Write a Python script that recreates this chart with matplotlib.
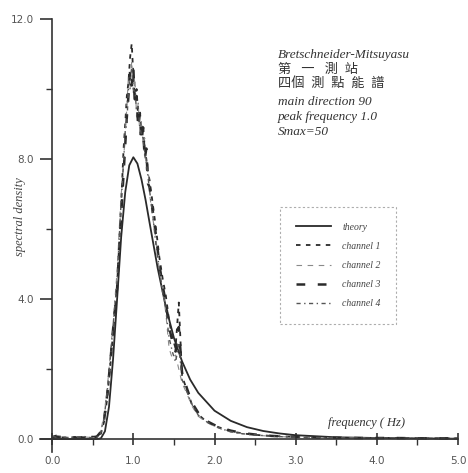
import matplotlib
matplotlib.use('Agg')
import matplotlib.pyplot as plt
from matplotlib.ticker import MultipleLocator, FormatStrFormatter

# theory curve (Bretschneider-Mitsuyasu)
theory_f = [0.00, 0.55, 0.60, 0.65, 0.70, 0.75, 0.80, 0.85, 0.90, 0.95, 1.00,
            1.05, 1.10, 1.15, 1.20, 1.30, 1.40, 1.50, 1.60, 1.70, 1.80, 2.00,
            2.20, 2.40, 2.60, 2.80, 3.00, 3.50, 4.00, 5.00]
theory_s = [0.00, 0.00, 0.02, 0.22, 0.92, 2.28, 4.00, 5.77, 7.05, 7.82, 8.05,
            7.87, 7.42, 6.84, 6.18, 4.88, 3.78, 2.89, 2.22, 1.70, 1.32, 0.81,
            0.52, 0.34, 0.23, 0.16, 0.11, 0.05, 0.03, 0.01]

# measured spectra, shared frequency grid
freq = [0.00, 0.05, 0.10, 0.20, 0.30, 0.40, 0.50, 0.55, 0.60, 0.64, 0.68, 0.72,
        0.76, 0.80, 0.84, 0.88, 0.90, 0.92, 0.94, 0.96, 0.98, 1.00, 1.02, 1.04,
        1.06, 1.08, 1.10, 1.12, 1.14, 1.16, 1.18, 1.20, 1.24, 1.28, 1.32, 1.36,
        1.40, 1.44, 1.48, 1.52, 1.56, 1.60, 1.66, 1.72, 1.80, 1.90, 2.00, 2.10,
        2.20, 2.35, 2.50, 2.70, 2.90, 3.10, 3.40, 3.80, 4.20, 4.60, 5.00]
channel_1 = [0.06, 0.10, 0.05, 0.04, 0.06, 0.05, 0.07, 0.06, 0.15, 0.5, 1.2, 2.2,
             3.3, 4.4, 6.2, 8.3, 9.0, 9.8, 10.2, 10.9, 11.3, 10.4, 9.7, 10.0,
             9.2, 9.4, 8.8, 9.0, 8.3, 8.0, 7.6, 7.4, 6.7, 6.0, 5.2, 4.6,
             4.1, 3.4, 2.9, 2.6, 3.9, 1.8, 1.4, 1.0, 0.7, 0.5, 0.38, 0.30,
             0.22, 0.16, 0.12, 0.09, 0.07, 0.05, 0.04, 0.03, 0.03, 0.02, 0.02]
channel_2 = [0.04, 0.06, 0.08, 0.05, 0.03, 0.06, 0.04, 0.08, 0.25, 0.7, 1.5, 2.5,
             3.6, 4.8, 6.6, 8.0, 8.7, 9.5, 10.4, 10.0, 10.8, 9.9, 10.3, 9.2,
             9.6, 8.7, 9.1, 8.4, 8.6, 7.7, 7.9, 7.0, 6.3, 5.7, 4.8, 4.3,
             3.6, 2.6, 2.3, 2.4, 2.0, 1.6, 1.3, 0.95, 0.65, 0.48, 0.36, 0.27,
             0.20, 0.15, 0.11, 0.08, 0.06, 0.05, 0.04, 0.03, 0.02, 0.02, 0.01]
channel_3 = [0.05, 0.07, 0.06, 0.06, 0.04, 0.05, 0.05, 0.07, 0.2, 0.55, 1.3, 2.3,
             3.4, 4.3, 6.0, 7.6, 8.4, 9.2, 9.8, 10.5, 10.1, 10.6, 9.5, 9.8,
             8.9, 9.3, 8.5, 8.9, 8.0, 8.3, 7.3, 7.2, 6.5, 5.8, 5.0, 4.4,
             3.9, 3.2, 2.8, 2.5, 3.2, 1.9, 1.45, 1.05, 0.75, 0.52, 0.40, 0.31,
             0.24, 0.17, 0.13, 0.09, 0.07, 0.06, 0.04, 0.03, 0.03, 0.02, 0.02]
channel_4 = [0.08, 0.05, 0.07, 0.03, 0.05, 0.07, 0.03, 0.05, 0.18, 0.6, 1.4, 2.4,
             3.5, 4.5, 6.4, 7.9, 8.8, 9.0, 10.0, 10.3, 10.6, 10.0, 9.9, 9.4,
             9.5, 8.9, 8.7, 8.6, 8.1, 7.9, 7.5, 7.1, 6.4, 5.5, 4.9, 4.2,
             3.7, 2.9, 2.5, 2.2, 2.7, 1.7, 1.35, 1.0, 0.68, 0.50, 0.37, 0.28,
             0.21, 0.15, 0.12, 0.08, 0.06, 0.05, 0.04, 0.03, 0.02, 0.02, 0.02]

x_ticks = [0.0, 1.0, 2.0, 3.0, 4.0, 5.0]
y_ticks = [0.0, 4.0, 8.0, 12.0]

info_lines = ['Bretschneider-Mitsuyasu', '第   一   測  站', '四個  測  點  能  譜',
              'main direction 90', 'peak frequency 1.0', 'Smax=50']

SERIF = ['Liberation Serif', 'Noto Sans CJK TC']
INK = '#2a2a2a'
W, H = 468, 473

fig = plt.figure(figsize=(W / 100, H / 100), dpi=100)
fig.patch.set_facecolor('white')
ax = fig.add_axes([40 / W, 21 / H, 418 / W, 433 / H])
ax.set_xlim(-0.15, 5.0)
ax.set_ylim(-0.37, 12.0)

ax.plot(theory_f, theory_s, color=INK, lw=1.3, label='theory')
ax.plot(freq, channel_1, color=INK, lw=1.3, ls=(0, (2.5, 3)), label='channel 1')
ax.plot(freq, channel_2, color='#8a8a8a', lw=0.8, ls=(0, (5, 5)), label='channel 2')
ax.plot(freq, channel_3, color=INK, lw=1.8, ls=(0, (3.5, 5)), label='channel 3')
ax.plot(freq, channel_4, color='#555555', lw=1.0, ls=(0, (3, 2.5, 1, 2.5)),
        label='channel 4')

# axes drawn through the origin, only left and bottom
for side in ('top', 'right'):
    ax.spines[side].set_visible(False)
ax.spines['left'].set_position(('data', 0))
ax.spines['bottom'].set_position(('data', 0))
for side in ('left', 'bottom'):
    ax.spines[side].set_color('#333333')
    ax.spines[side].set_linewidth(1.2)

ax.set_xticks(x_ticks)
ax.set_yticks(y_ticks)
ax.xaxis.set_minor_locator(MultipleLocator(0.5))
ax.yaxis.set_minor_locator(MultipleLocator(2.0))
ax.xaxis.set_major_formatter(FormatStrFormatter('%.1f'))
ax.yaxis.set_major_formatter(FormatStrFormatter('%.1f'))
ax.tick_params(axis='x', which='major', direction='inout', length=8, width=1.2,
               color='#333333', labelsize=7.5, labelcolor='#555555', pad=8)
ax.tick_params(axis='x', which='minor', direction='out', length=4, width=1.0,
               color='#333333')
ax.tick_params(axis='y', which='major', direction='out', length=9, width=1.2,
               color='#333333', labelsize=7.5, labelcolor='#555555', pad=4)
ax.tick_params(axis='y', which='minor', direction='out', length=4, width=1.0,
               color='#333333')

fig.text(20 / W, 1 - 217 / H, 'spectral density', rotation=90, ha='center',
         va='center', fontsize=9, style='italic', family=SERIF, color='#444444')
fig.text(328 / W, 1 - 423 / H, 'frequency ( Hz)', ha='left', va='center',
         fontsize=9, style='italic', family=SERIF, color='#333333')

for y_px, line in zip([55, 70, 84, 102, 117, 132], info_lines):
    fig.text(278 / W, 1 - y_px / H, line, ha='left', va='center', fontsize=9.5,
             style='italic', family=SERIF, color='#333333')

leg = ax.legend(loc='upper left', bbox_to_anchor=(280 / W, 1 - 207 / H),
                bbox_transform=fig.transFigure, fancybox=False, frameon=True,
                prop={'family': SERIF, 'style': 'italic', 'size': 7},
                handlelength=3.6, handletextpad=1.2, labelspacing=1.05,
                borderpad=1.6, borderaxespad=0)
leg.get_frame().set_edgecolor('#999999')
leg.get_frame().set_linestyle((0, (2, 2)))
leg.get_frame().set_linewidth(0.8)
for txt in leg.get_texts():
    txt.set_color('#444444')

fig.savefig('out.png', dpi=100, facecolor='white')
